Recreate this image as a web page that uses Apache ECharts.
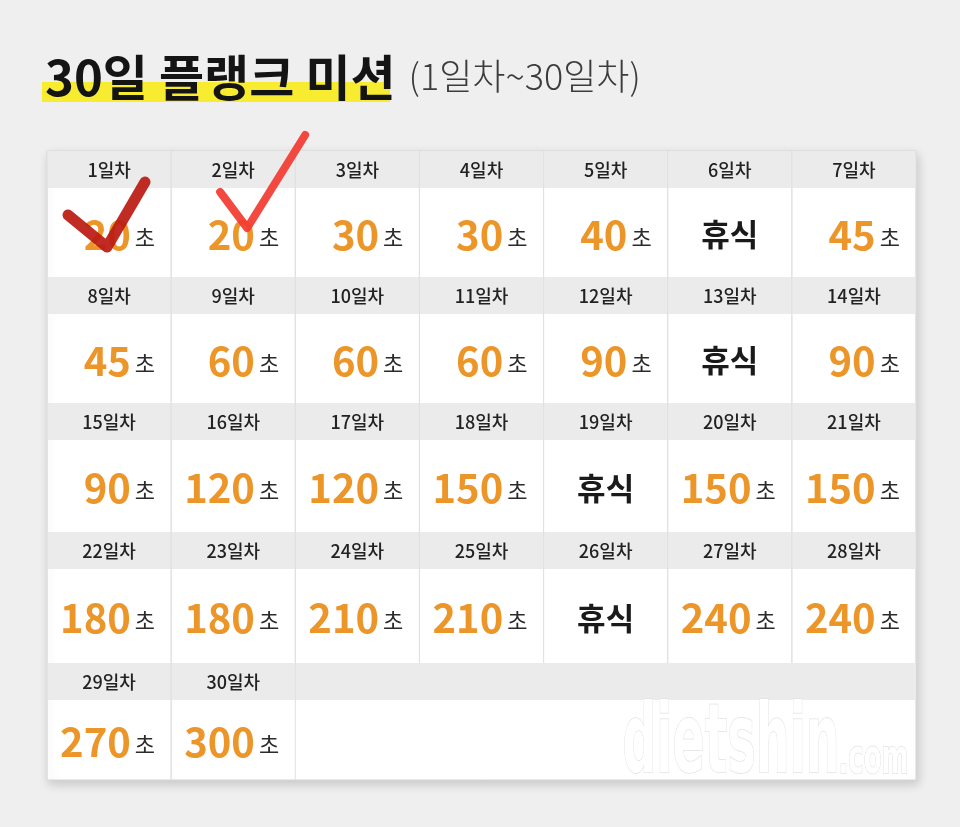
<!DOCTYPE html>
<html>
<head>
<meta charset="utf-8">
<script src="https://cdn.jsdelivr.net/npm/echarts@6/dist/echarts.min.js"></script>
<style>
  html, body { margin: 0; background: #efefef; }
  #chart { width: 960px; height: 827px; }
</style>
</head>
<body>
<div id="chart"></div>
<script>
// 30일 플랭크 미션 - seconds per day, null = 휴식
const seconds = [
  20, 20, 30, 30, 40, null, 45,
  45, 60, 60, 60, 90, null, 90,
  90, 120, 120, 150, null, 150, 150,
  180, 180, 210, 210, null, 240, 240,
  270, 300
];
const checkedDays = [1, 2];
const dayLabels = seconds.map((s, i) => (i + 1) + '일차');
const restText = '휴식';
const unitText = '초';

// layout (pixels inside the table)
const COLS = 7;
const ROW_EDGES = [0, 126, 252, 381, 512, 629];
const HEAD = 37;
const KR = "'Noto Sans CJK KR', 'Noto Sans', sans-serif";
const NARROW = "'Liberation Sans Narrow', 'DejaVu Sans Condensed', sans-serif";

// hand drawn check marks, offsets from the cell's top-left corner
const checkStyle = {
  1: { pts: [[21, 64], [60, 96], [98, 31]], color: '#bb1a10', width: 11 },
  2: { pts: [[49, 41], [76, 77], [134, -16]], color: '#f23a30', width: 8 }
};

const cells = seconds.map((s, i) => ({
  value: [i % COLS, Math.floor(i / COLS), i + 1]
}));

function renderCell(params, api) {
  const col = api.value(0), row = api.value(1), day = api.value(2);
  const sec = seconds[params.dataIndex];
  const p0 = api.coord([col, ROW_EDGES[row]]);
  const p1 = api.coord([col + 1, ROW_EDGES[row + 1]]);
  const x = p0[0], y = p0[1], w = p1[0] - p0[0], h = p1[1] - p0[1];
  const cx = x + w / 2;
  const mid = y + HEAD + (h - HEAD) / 2 + 2;
  const kids = [
    { type: 'rect', shape: { x: x, y: y, width: w, height: HEAD }, style: { fill: '#ebebeb' } },
    { type: 'line', shape: { x1: x, y1: y, x2: x, y2: y + h }, style: { stroke: '#e0e0e0', lineWidth: 1 } },
    { type: 'line', shape: { x1: x + w, y1: y, x2: x + w, y2: y + h }, style: { stroke: '#e0e0e0', lineWidth: 1 } },
    {
      type: 'text',
      style: { x: cx, y: y + HEAD / 2 + 1, text: dayLabels[day - 1], align: 'center', verticalAlign: 'middle',
        fontSize: 18, fontWeight: 500, fontFamily: KR, fill: '#222' }
    }
  ];
  if (sec == null) {
    kids.push({
      type: 'text',
      style: { x: cx, y: mid, text: restText, align: 'center', verticalAlign: 'middle',
        fontSize: 31, fontWeight: 'bold', fontFamily: KR, fill: '#1a1a1a' }
    });
  } else {
    kids.push({
      type: 'text',
      style: {
        x: cx + 46, y: mid, text: '{n|' + sec + '}{u|' + unitText + '}', align: 'right', verticalAlign: 'middle',
        rich: {
          n: { fontSize: 40, fontWeight: 'bold', fontFamily: KR, fill: '#ec9528' },
          u: { fontSize: 22, fontFamily: KR, fill: '#2b2b2b', padding: [6, 0, 0, 4] }
        }
      }
    });
  }
  if (checkedDays.indexOf(day) >= 0) {
    const c = checkStyle[day];
    kids.push({
      type: 'polyline', z2: 50,
      shape: { points: c.pts.map(p => [x + p[0], y + p[1]]) },
      style: { stroke: c.color, lineWidth: c.width, lineCap: 'round', lineJoin: 'round', fill: null, opacity: 0.92 }
    });
  }
  return { type: 'group', children: kids };
}

const chart = echarts.init(document.getElementById('chart'));
chart.setOption({
  backgroundColor: '#efefef',
  animation: false,
  title: {
    text: '{a|30일 플랭크 미션} {b|(1일차~30일차)}',
    left: 40, top: 48, z: 10,
    textStyle: {
      rich: {
        a: { fontSize: 49, fontWeight: 'bold', fontFamily: KR, color: '#141414' },
        b: { fontSize: 36, fontFamily: KR, fontWeight: 300, color: '#3c3c3c', padding: [0, 0, 2, 8] }
      }
    }
  },
  graphic: [
    { type: 'rect', left: 42, top: 82, z: 0, shape: { width: 348, height: 20 }, style: { fill: '#f8ec30' } },
    {
      type: 'text', left: 622, top: 698, z: 100, scaleY: 1.55, scaleX: 0.85,
      style: { text: 'dietshin', fontSize: 62, fontWeight: 'bold', fontFamily: NARROW,
        fill: '#ffffff', stroke: '#e2e2e2', lineWidth: 1 }
    },
    {
      type: 'text', left: 838, top: 736, z: 100, scaleY: 1.5, scaleX: 0.9,
      style: { text: '.com', fontSize: 32, fontWeight: 'bold', fontFamily: NARROW,
        fill: '#ffffff', stroke: '#e2e2e2', lineWidth: 1 }
    }
  ],
  grid: {
    left: 47, top: 151, width: 869, height: 629,
    show: true, backgroundColor: '#ffffff', borderColor: '#d6d6d6', borderWidth: 1,
    shadowColor: 'rgba(0,0,0,0.16)', shadowBlur: 10, shadowOffsetX: 2, shadowOffsetY: 4
  },
  xAxis: { type: 'value', min: 0, max: COLS, show: false },
  yAxis: { type: 'value', min: 0, max: ROW_EDGES[ROW_EDGES.length - 1], inverse: true, show: false },
  series: [{
    type: 'custom',
    renderItem: renderCell,
    data: cells,
    clip: false,
    markArea: {
      silent: true,
      itemStyle: { color: '#ebebeb' },
      data: [[{ coord: [2, ROW_EDGES[4]] }, { coord: [COLS, ROW_EDGES[4] + HEAD] }]]
    }
  }]
});
</script>
</body>
</html>
